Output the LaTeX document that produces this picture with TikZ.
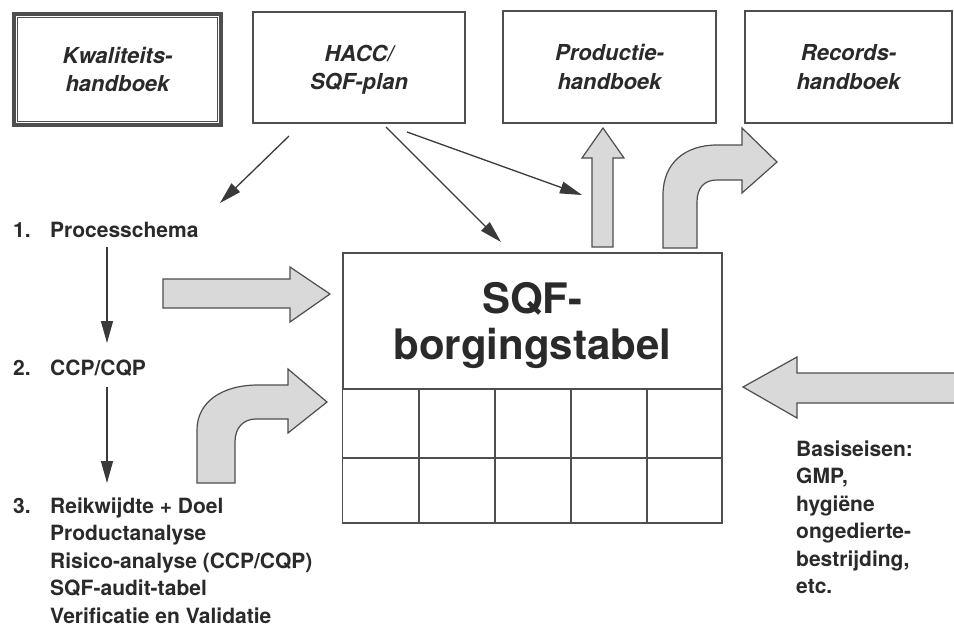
\documentclass[tikz,border=0pt]{standalone}
\usepackage{fontspec}
\setmainfont{TeX Gyre Heros}
\usetikzlibrary{arrows.meta}
\definecolor{ink}{HTML}{2A2A2A}
\definecolor{edge}{HTML}{4E4E4E}
\definecolor{blockfill}{HTML}{D9D9D9}
\definecolor{thin}{HTML}{3A3A3A}
\tikzset{
  docbox/.style={draw=edge, line width=1.4pt, align=center, text=ink, inner sep=0pt,
    text depth=0pt, font=\fontsize{22}{28.5}\selectfont\bfseries\itshape},
  listtext/.style={anchor=base west, inner sep=0pt, text=ink,
    font=\fontsize{21}{27.5}\selectfont\bfseries},
  blockarrow/.style={draw=edge, line width=1.2pt, fill=blockfill, line join=miter},
  thinarrow/.style={draw=thin, line width=1.3pt, -{Triangle[length=22pt,width=12pt]}},
  gridline/.style={draw=edge, line width=1.3pt}
}
\begin{document}
\begin{tikzpicture}[x=1pt,y=-1pt]
\useasboundingbox (0,0) rectangle (954,627);
\fill[white] (0,0) rectangle (954,627);

% top boxes
\node[docbox, line width=4pt, minimum width=207pt, minimum height=111pt] (kw) at (117.5,69.5) {Kwaliteits-\\handboek};
\draw[draw=edge, line width=1.3pt] ([shift={(5.5,5.5)}]kw.north west) rectangle ([shift={(-5.5,-5.5)}]kw.south east);
\node[docbox, minimum width=212pt, minimum height=111pt] (hacc) at (359,67.5) {HACC/\\SQF-plan};
\node[docbox, minimum width=213pt, minimum height=112pt] (prod) at (609.5,67) {Productie-\\handboek};
\node[docbox, minimum width=207pt, minimum height=112pt] (rec) at (848.5,67) {Records-\\handboek};

% SQF table
\node[draw=edge, line width=1.3pt, minimum width=379pt, minimum height=136pt, inner sep=0pt,
  align=center, text depth=0pt, text=ink, font=\fontsize{42}{46}\selectfont\bfseries] (sqf) at (532.5,321) {SQF-\\borgingstabel};
\draw[gridline] (sqf.south west) rectangle (722,523);
\draw[gridline] (343,458) -- (722,458);
\foreach \x in {419,495,571,647} \draw[gridline] (\x,389) -- (\x,523);

% left list
\node[listtext] (n1) at (13,237) {1.};
\node[listtext] (t1) at (50,237) {Processchema};
\node[listtext] (n2) at (13,375) {2.};
\node[listtext] (t2) at (50,375) {CCP/CQP};
\node[listtext] (n3) at (13,513) {3.};
\node[listtext] (t3) at (50,513) {\vtop{\hbox{Reikwijdte + Doel}\hbox{Productanalyse}\hbox{Risico-analyse (CCP/CQP)}\hbox{SQF-audit-tabel}\hbox{Verificatie en Validatie}}};

% right text
\node[listtext] (basis) at (796,456) {\vtop{\hbox{Basiseisen:}\hbox{GMP,}\hbox{hygiëne}\hbox{ongedierte-}\hbox{bestrijding,}\hbox{etc.}}};

% thin arrows
\coordinate (a1s) at (289,136); \coordinate (a1e) at (220,203);
\coordinate (a2s) at (386,127); \coordinate (a2e) at (501,242);
\coordinate (a3s) at (407,132); \coordinate (a3e) at (582,195);
\coordinate (v1s) at (107,247); \coordinate (v1e) at (107,343);
\coordinate (v2s) at (107,387); \coordinate (v2e) at (107,483);
\draw[thinarrow] (a1s) -- (a1e);
\draw[thinarrow] (a2s) -- (a2e);
\draw[thinarrow] (a3s) -- (a3e);
\draw[thinarrow] (v1s) -- (v1e);
\draw[thinarrow] (v2s) -- (v2e);

% block arrows
% up arrow to Productie-handboek
\draw[blockarrow] (592,247) -- (592,158) -- (582,158) -- (603,128) -- (624,158) -- (613,158) -- (613,247) -- cycle;
% curved arrow to Records-handboek
\draw[blockarrow] (663,248) -- (663,195) .. controls (663,163) and (685,145) .. (717,145) -- (742,145) -- (742,128) -- (777,162) -- (742,193) -- (742,180) -- (717,180) .. controls (704,180) and (697,188) .. (697,202) -- (697,248) -- cycle;
% straight arrow from left
\draw[blockarrow] (163,279) -- (290,279) -- (290,267) -- (330,294) -- (290,322) -- (290,308) -- (163,308) -- cycle;
% curved arrow from lower left
\draw[blockarrow] (197,483) -- (197,430) .. controls (197,402) and (222,385) .. (258,385) -- (288,385) -- (288,369) -- (327,402) -- (288,433) -- (288,419) -- (256,419) .. controls (243,419) and (235,428) .. (235,442) -- (235,483) -- cycle;
% arrow from right
\draw[blockarrow] (962,373) -- (797,373) -- (797,357) -- (743,387) -- (797,418) -- (797,403) -- (962,403);
\end{tikzpicture}
\end{document}
